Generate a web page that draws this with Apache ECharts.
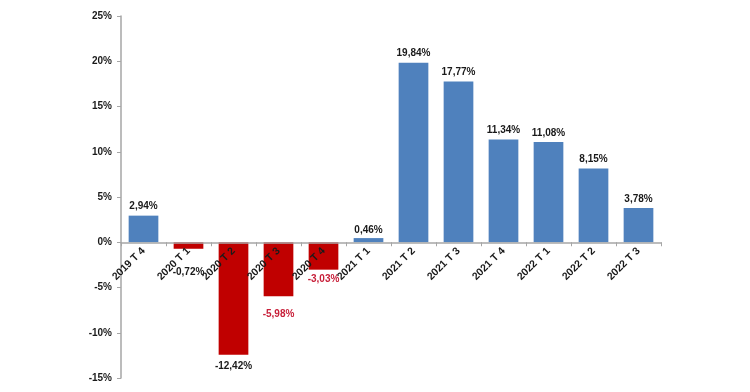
<!DOCTYPE html>
<html>
<head>
<meta charset="utf-8">
<style>
html,body{margin:0;padding:0;background:#fff;}
#chart{width:750px;height:392px;}
</style>
<script src="https://cdn.jsdelivr.net/npm/echarts@6/dist/echarts.min.js"></script>
</head>
<body>
<div id="chart"></div>
<script>
const categories = ['2019 T 4','2020 T 1','2020 T 2','2020 T 3','2020 T 4','2021 T 1','2021 T 2','2021 T 3','2021 T 4','2022 T 1','2022 T 2','2022 T 3'];
const values = [2.94, -0.72, -12.42, -5.98, -3.03, 0.46, 19.84, 17.77, 11.34, 11.08, 8.15, 3.78];
const labelColors = ['#1a1a1a','#1a1a1a','#1a1a1a','#c8203a','#c8203a','#1a1a1a','#1a1a1a','#1a1a1a','#1a1a1a','#1a1a1a','#1a1a1a','#1a1a1a'];
const labelDistances = [4, 18, 7, 13, 5, 3, 4, 4, 4, 4, 4, 4];
const yTicks = { min: -15, max: 25, interval: 5 };

const FONT = '"Liberation Sans", Arial, sans-serif';
const GRID_TOP = 16, GRID_BOTTOM = 14, H = 392;
const plotH = H - GRID_TOP - GRID_BOTTOM;
// distance from plot bottom up to the zero line
const zeroOffset = plotH * (0 - yTicks.min) / (yTicks.max - yTicks.min);

const data = values.map((v, i) => ({
  value: v,
  itemStyle: { color: v >= 0 ? '#4f81bd' : '#c00000' },
  label: {
    position: v >= 0 ? 'top' : 'bottom',
    distance: labelDistances[i],
    color: labelColors[i]
  }
}));

const chart = echarts.init(document.getElementById('chart'), null, { renderer: 'canvas' });
chart.setOption({
  animation: false,
  grid: { left: 121, right: 89, top: GRID_TOP, bottom: GRID_BOTTOM, containLabel: false, outerBoundsMode: 'none' },
  xAxis: {
    type: 'category',
    data: categories,
    position: 'bottom',
    offset: -zeroOffset,
    z: 5,
    axisLine: { onZero: false, lineStyle: { color: '#a6a6a6', width: 1.5 } },
    axisTick: { show: true, alignWithLabel: false, length: 4, lineStyle: { color: '#a6a6a6' } },
    axisLabel: {
      rotate: 45, margin: 7, color: '#1a1a1a',
      fontFamily: FONT, fontWeight: 'bold', fontSize: 10.5, interval: 0
    },
    splitLine: { show: false }
  },
  yAxis: {
    type: 'value',
    min: yTicks.min, max: yTicks.max, interval: yTicks.interval,
    axisLine: { show: true, lineStyle: { color: '#a6a6a6', width: 1.5 } },
    axisTick: { show: true, length: 4, lineStyle: { color: '#a6a6a6' } },
    axisLabel: {
      formatter: '{value}%', color: '#1a1a1a', margin: 9,
      fontFamily: FONT, fontWeight: 'bold', fontSize: 10
    },
    splitLine: { show: false }
  },
  series: [{
    type: 'bar',
    data: data,
    barWidth: '66%',
    z: 2,
    label: {
      show: true,
      fontFamily: FONT, fontWeight: 'bold', fontSize: 10,
      formatter: p => p.value.toFixed(2).replace('.', ',') + '%'
    }
  }]
});
</script>
</body>
</html>
